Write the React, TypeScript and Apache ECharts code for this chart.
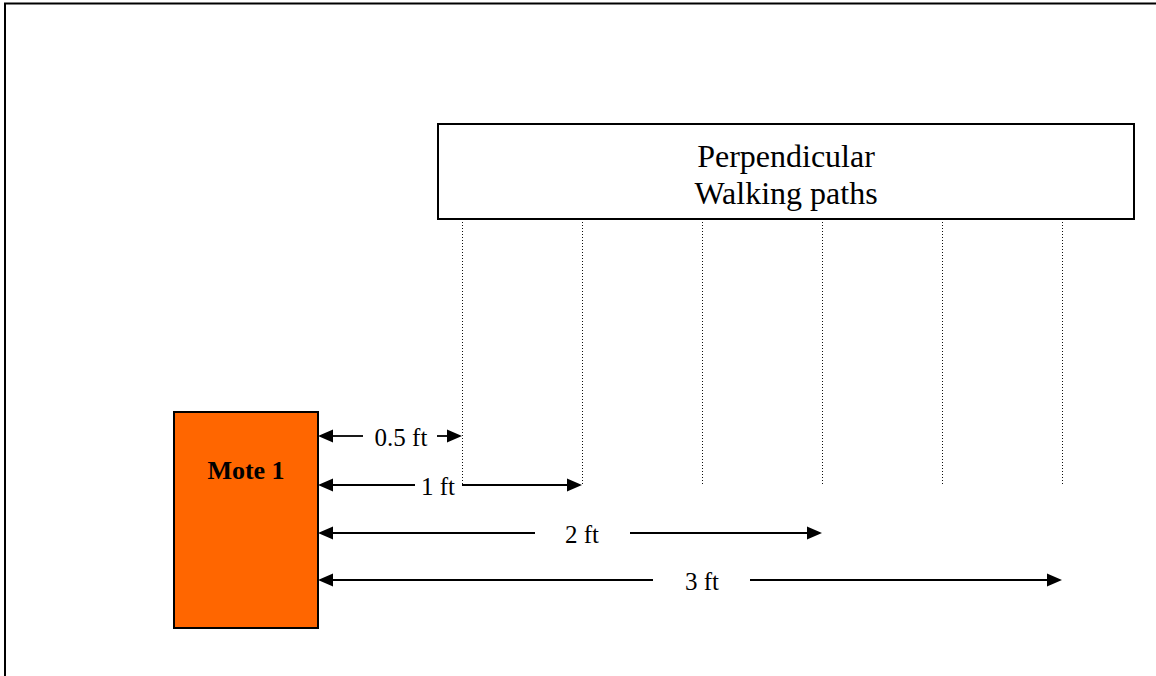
import React, { useEffect, useRef } from "react";
import * as echarts from "echarts";

// ---- data ----
const DISTANCES_FT = [0.5, 1, 2, 3];
const DISTANCE_LABELS = ["0.5 ft", "1 ft", "2 ft", "3 ft"];
const PATH_POSITIONS_FT = [0.5, 1, 1.5, 2, 2.5, 3];
const TITLE_LINES = ["Perpendicular", "Walking paths"];
const MOTE_LABEL = "Mote 1";

// ---- layout (pixels) ----
const W = 1156;
const H = 676;
const ZERO_FT_PX = 342;
const PX_PER_FT = 240;
const MOTE_BOX = { x: 174, y: 412, w: 144, h: 216 };
const PATH_BOX = { x: 438, y: 124, w: 696, h: 95 };
const PATH_LINE_TOP = 222;
const PATH_LINE_BOTTOM = 486;
const ARROW_ROW_Y = [436, 485, 533, 580];
const LABEL_CENTER_X = [401, 438, 582, 702];
const LABEL_GAP = [
  [363, 437],
  [415, 462],
  [535, 630],
  [653, 750],
];
const HEAD_LEN = 15;
const HEAD_HALF = 6.5;
const FONT = "'Liberation Serif', 'Times New Roman', serif";

export default function App() {
  const ref = useRef<HTMLDivElement>(null);

  useEffect(() => {
    if (!ref.current) return;
    const chart = echarts.init(ref.current, null, { renderer: "svg" });
    const start = MOTE_BOX.x + MOTE_BOX.w;

    const arrowData = DISTANCES_FT.map((d, i) => [d, ARROW_ROW_Y[i], i]);
    const pathData = PATH_POSITIONS_FT.map((p) => [p, PATH_LINE_TOP]);

    const option: any = {
      animation: false,
      backgroundColor: "#ffffff",
      grid: { left: 0, right: 0, top: 0, bottom: 0, containLabel: false },
      xAxis: {
        type: "value",
        min: -ZERO_FT_PX / PX_PER_FT,
        max: (W - ZERO_FT_PX) / PX_PER_FT,
        show: false,
      },
      yAxis: { type: "value", min: 0, max: H, inverse: true, show: false },
      graphic: [
        {
          type: "line",
          shape: { x1: 4, y1: 3.5, x2: W, y2: 3.5 },
          style: { stroke: "#000", lineWidth: 2 },
        },
        {
          type: "line",
          shape: { x1: 5, y1: 3, x2: 5, y2: H },
          style: { stroke: "#000", lineWidth: 2 },
        },
        {
          type: "rect",
          shape: { x: MOTE_BOX.x, y: MOTE_BOX.y, width: MOTE_BOX.w, height: MOTE_BOX.h },
          style: { fill: "#FF6600", stroke: "#000", lineWidth: 2 },
        },
        {
          type: "text",
          style: {
            text: MOTE_LABEL,
            x: MOTE_BOX.x + MOTE_BOX.w / 2,
            y: 470,
            align: "center",
            verticalAlign: "middle",
            fontFamily: FONT,
            fontWeight: "bold",
            fontSize: 26,
            fill: "#000",
          },
        },
        {
          type: "rect",
          shape: { x: PATH_BOX.x, y: PATH_BOX.y, width: PATH_BOX.w, height: PATH_BOX.h },
          style: { fill: "#fff", stroke: "#000", lineWidth: 2 },
        },
        {
          type: "text",
          style: {
            text: TITLE_LINES.join("\n"),
            x: PATH_BOX.x + PATH_BOX.w / 2,
            y: 174,
            align: "center",
            verticalAlign: "middle",
            fontFamily: FONT,
            fontSize: 32,
            lineHeight: 37,
            fill: "#000",
          },
        },
      ],
      series: [
        {
          type: "custom",
          coordinateSystem: "cartesian2d",
          clip: false,
          data: pathData,
          renderItem: (params: any, api: any) => {
            const p = api.coord([api.value(0), PATH_LINE_TOP]);
            const b = api.coord([api.value(0), PATH_LINE_BOTTOM]);
            const x = p[0] + 0.5;
            return {
              type: "line",
              shape: { x1: x, y1: p[1], x2: x, y2: b[1] },
              style: { stroke: "#111", lineWidth: 1, lineDash: [1, 2] },
            };
          },
        },
        {
          type: "custom",
          coordinateSystem: "cartesian2d",
          clip: false,
          data: arrowData,
          renderItem: (params: any, api: any) => {
            const i = params.dataIndex;
            const pt = api.coord([api.value(0), api.value(1)]);
            const end = pt[0];
            const y = pt[1];
            const [g1, g2] = LABEL_GAP[i];
            const lineStyle = { stroke: "#000", lineWidth: 1.8 };
            const children: any[] = [
              {
                type: "line",
                shape: { x1: start + HEAD_LEN - 1, y1: y, x2: g1, y2: y },
                style: lineStyle,
              },
              {
                type: "line",
                shape: { x1: g2, y1: y, x2: end - HEAD_LEN + 1, y2: y },
                style: lineStyle,
              },
              {
                type: "polygon",
                shape: {
                  points: [
                    [start, y],
                    [start + HEAD_LEN, y - HEAD_HALF],
                    [start + HEAD_LEN, y + HEAD_HALF],
                  ],
                },
                style: { fill: "#000" },
              },
              {
                type: "polygon",
                shape: {
                  points: [
                    [end, y],
                    [end - HEAD_LEN, y - HEAD_HALF],
                    [end - HEAD_LEN, y + HEAD_HALF],
                  ],
                },
                style: { fill: "#000" },
              },
              {
                type: "text",
                style: {
                  text: DISTANCE_LABELS[i],
                  x: LABEL_CENTER_X[i],
                  y: y + 1,
                  align: "center",
                  verticalAlign: "middle",
                  fontFamily: FONT,
                  fontSize: 25,
                  fill: "#000",
                },
              },
            ];
            return { type: "group", children };
          },
        },
      ],
    };

    chart.setOption(option);
    return () => chart.dispose();
  }, []);

  return (
    <div
      ref={ref}
      style={{ position: "fixed", left: 0, top: 0, width: W, height: H }}
    />
  );
}
